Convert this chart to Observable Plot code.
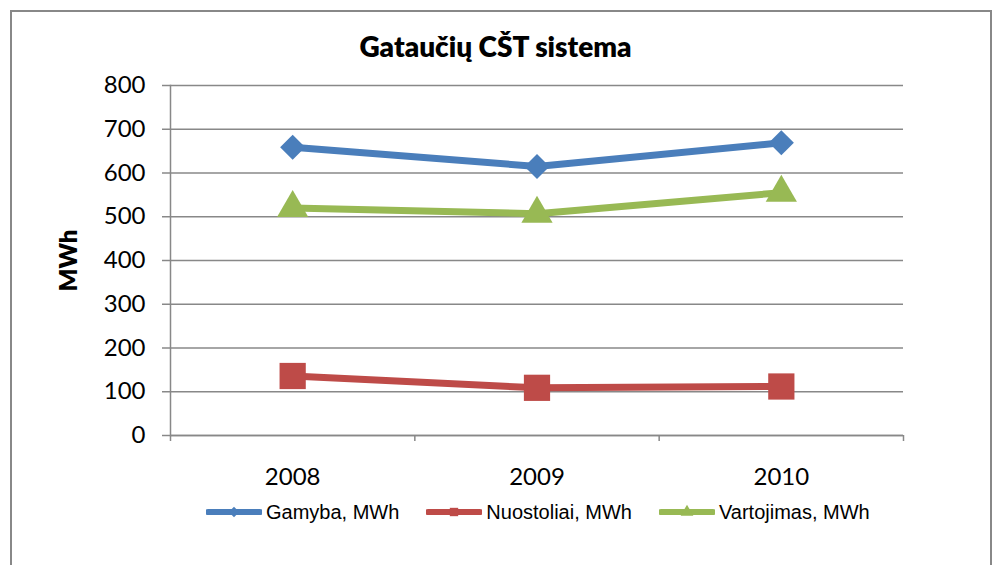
<!DOCTYPE html>
<html>
<head>
<meta charset="utf-8">
<script src="https://cdn.jsdelivr.net/npm/d3@7"></script>
<script src="https://cdn.jsdelivr.net/npm/@observablehq/plot@0.6"></script>
<style>
  html, body { margin: 0; padding: 0; background: #fff; }
  #wrap { position: relative; width: 997px; height: 565px; overflow: hidden; background: #fff; }
  #border { position: absolute; left: 10px; top: 10px; width: 982px; height: 620px; box-sizing: border-box; border: 2px solid #888; }
  #title { position: absolute; left: 0; top: 32px; width: 991px; text-align: center; font-family: Lato, sans-serif; font-weight: 800; font-size: 28px; line-height: 28px; color: #000; }
  #chart { position: absolute; left: 0; top: 0; }
  #legend { position: absolute; left: 206px; top: 502px; height: 20px; display: flex; align-items: center; font-family: "Liberation Sans", Arial, sans-serif; font-size: 20px; color: #000; }
  #legend .item { display: flex; align-items: center; margin-right: 27px; }
  #legend svg { margin-right: 4px; }
</style>
</head>
<body>
<div id="wrap">
  <div id="border"></div>
  <div id="chart"></div>
  <div id="title">Gataučių CŠT sistema</div>
  <div id="legend"></div>
</div>
<script>
const years = [2008, 2009, 2010];
const gamyba = [659, 615, 669];
const nuostoliai = [136, 109, 112];
const vartojimas = [520, 507, 555];
const yTicks = [0, 100, 200, 300, 400, 500, 600, 700, 800];
const seriesNames = ["Gamyba, MWh", "Nuostoliai, MWh", "Vartojimas, MWh"];
const chartTitle = "Gataučių CŠT sistema";
const yLabel = "MWh";

const colors = ["#4A7EBB", "#BE4B48", "#98B954"];
const symbols = ["diamond2", "square", "triangle"];
const radii = [11.3, 14.8, 11.6];
const seriesValues = [gamyba, nuostoliai, vartojimas];

const series = seriesNames.map((name, k) => ({
  name, color: colors[k], symbol: symbols[k], r: radii[k],
  rows: years.map((year, i) => ({year, value: seriesValues[k][i]}))
}));

const xBounds = years.map(y => y - 0.5).concat([years[years.length - 1] + 0.5]);
const grey = "#888";

const marks = [
  Plot.gridY(yTicks, {stroke: grey, strokeOpacity: 1, strokeWidth: 1.5}),
  Plot.axisY({ticks: yTicks, tickSize: 8, tickPadding: 17, stroke: grey, strokeWidth: 1.5, label: null, tickFormat: d => String(d), fontSize: 24}),
  Plot.axisX({ticks: years, tickSize: 0, tickPadding: 32, label: null, tickFormat: d => String(d), fontSize: 24}),
  Plot.axisX({ticks: xBounds, tickSize: 6, stroke: grey, strokeWidth: 1.5, label: null, tickFormat: () => ""}),
  Plot.ruleY([0], {stroke: grey, strokeWidth: 1.5}),
  Plot.frame({anchor: "left", stroke: grey, strokeWidth: 1.5}),
  Plot.text([yLabel], {frameAnchor: "left", dx: -101, rotate: -90, fontWeight: 800, fontSize: 24, textAnchor: "middle", lineAnchor: "middle", fill: "#000"})
];
for (const s of series) {
  marks.push(Plot.line(s.rows, {x: "year", y: "value", stroke: s.color, strokeWidth: 7}));
}
for (const s of series) {
  marks.push(Plot.dot(s.rows, {x: "year", y: "value", symbol: s.symbol, r: s.r, fill: s.color, stroke: "none"}));
}

const chart = Plot.plot({
  width: 997,
  height: 500,
  marginLeft: 170,
  marginRight: 94,
  marginTop: 85,
  marginBottom: 65,
  style: {fontFamily: "Lato, sans-serif", fontSize: "24px", color: "#000", background: "transparent"},
  x: {domain: [xBounds[0], xBounds[xBounds.length - 1]]},
  y: {domain: [0, 800]},
  marks
});
document.getElementById("chart").appendChild(chart);
document.getElementById("title").textContent = chartTitle;

const legend = document.getElementById("legend");
const symbolGen = {diamond2: d3.symbolDiamond2, square: d3.symbolSquare, triangle: d3.symbolTriangle};
for (const s of series) {
  const item = document.createElement("div");
  item.className = "item";
  const svg = d3.create("svg").attr("width", 56).attr("height", 20);
  svg.append("line").attr("x1", 2).attr("x2", 54).attr("y1", 10).attr("y2", 10)
    .attr("stroke", s.color).attr("stroke-width", 6).attr("stroke-linecap", "round");
  svg.append("path").attr("transform", "translate(28,10)")
    .attr("d", d3.symbol(symbolGen[s.symbol], 70)()).attr("fill", s.color);
  item.appendChild(svg.node());
  const span = document.createElement("span");
  span.textContent = s.name;
  item.appendChild(span);
  legend.appendChild(item);
}
</script>
</body>
</html>
